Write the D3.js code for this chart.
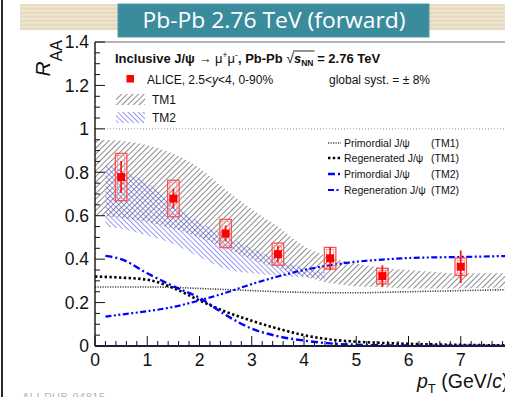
<!DOCTYPE html>
<html>
<head>
<meta charset="utf-8">
<script src="https://cdn.jsdelivr.net/npm/d3@7"></script>
<style>
  body { margin: 0; background: #fff; }
  svg { display: block; }
</style>
</head>
<body>
<svg id="chart" width="505" height="397"></svg>
<script>
// ALICE inclusive J/psi R_AA vs pT at forward rapidity, Pb-Pb 2.76 TeV,
// compared with two transport models (TM1, TM2).

// Measured points
const ptCenters = [0.5, 1.5, 2.5, 3.5, 4.5, 5.5, 7];
const raaValues = [0.778, 0.679, 0.518, 0.423, 0.404, 0.322, 0.365];
const statErrors = [0.074, 0.046, 0.037, 0.038, 0.052, 0.05, 0.075];
const systErrors = [0.109, 0.084, 0.065, 0.051, 0.05, 0.036, 0.04];

// TM1 band
const tm1Pt    = [0, 0.5, 1, 1.5, 2, 2.5, 3, 3.5, 4, 4.5, 5, 5.5, 6, 7, 8];
const tm1Upper = [0.95, 0.945, 0.925, 0.885, 0.82, 0.72, 0.63, 0.55, 0.46, 0.41, 0.38, 0.36, 0.35, 0.335, 0.335];
const tm1Lower = [0.60, 0.59, 0.57, 0.54, 0.50, 0.45, 0.40, 0.36, 0.32, 0.29, 0.275, 0.27, 0.265, 0.265, 0.27];

// TM2 band
const tm2Pt    = [0.2, 0.5, 1, 1.5, 2, 2.5, 3, 3.5, 4, 4.4];
const tm2Upper = [0.84, 0.81, 0.75, 0.65, 0.57, 0.51, 0.45, 0.40, 0.36, 0.34];
const tm2Lower = [0.55, 0.54, 0.51, 0.47, 0.41, 0.355, 0.335, 0.325, 0.315, 0.31];

// Model components
const primTM1Pt  = [0, 0.5, 1, 1.5, 2, 2.5, 3, 3.5, 4, 4.5, 5, 5.5, 6, 7, 8];
const primTM1    = [0.272, 0.272, 0.272, 0.27, 0.265, 0.26, 0.255, 0.25, 0.247, 0.245, 0.245, 0.247, 0.25, 0.255, 0.26];
const regenTM1Pt = [0, 0.5, 1, 1.5, 2, 2.5, 3, 3.5, 4, 4.5, 5, 5.5, 6, 7, 8];
const regenTM1   = [0.32, 0.315, 0.305, 0.267, 0.21, 0.158, 0.116, 0.08, 0.05, 0.03, 0.02, 0.014, 0.01, 0.005, 0.003];
const primTM2Pt  = [0.2, 0.5, 1, 1.5, 2, 2.5, 3, 3.5, 4, 4.5, 5, 6, 7, 8];
const primTM2    = [0.415, 0.40, 0.335, 0.275, 0.222, 0.143, 0.08, 0.045, 0.025, 0.012, 0.006, 0.002, 0.001, 0.001];
const regenTM2Pt = [0.2, 0.5, 1, 1.5, 2, 2.5, 3, 3.5, 4, 4.5, 5, 5.5, 6, 7, 8];
const regenTM2   = [0.135, 0.145, 0.16, 0.18, 0.21, 0.245, 0.285, 0.32, 0.35, 0.372, 0.388, 0.398, 0.405, 0.41, 0.415];

// Axis ticks (the label for 8 falls past the right edge of the slide)
const xMajorTicks = [0, 1, 2, 3, 4, 5, 6, 7];
const yMajorTicks = [0, 0.2, 0.4, 0.6, 0.8, 1, 1.2, 1.4];
const yTickLabels = ["0", "0.2", "0.4", "0.6", "0.8", "1", "1.2", "1.4"];

const svg = d3.select("#chart");
const FONT = "'Liberation Sans', Arial, Helvetica, sans-serif";

// ---------- slide decoration ----------
const defs = svg.append("defs");
const tan = defs.append("pattern").attr("id", "tanStripes")
  .attr("patternUnits", "userSpaceOnUse").attr("width", 6).attr("height", 4);
tan.append("rect").attr("width", 6).attr("height", 4).attr("fill", "#e7dbbf");
tan.append("rect").attr("y", 2).attr("width", 6).attr("height", 1.4).attr("fill", "#efe6d3");

svg.append("rect").attr("x", 20).attr("y", 4).attr("width", 485).attr("height", 26)
  .attr("fill", "url(#tanStripes)");
svg.append("rect").attr("x", 1).attr("y", 0).attr("width", 2).attr("height", 397).attr("fill", "#2a2a2a");

svg.append("rect").attr("x", 118).attr("y", 4).attr("width", 311).attr("height", 33)
  .attr("fill", "#3a8c9c").attr("stroke", "#4f9aa9").attr("stroke-width", 1);
svg.append("text").attr("x", 274).attr("y", 28).attr("text-anchor", "middle")
  .attr("font-family", "'Open Sans', 'Noto Sans', sans-serif").attr("font-size", 21)
  .attr("fill", "#ffffff").attr("textLength", 263).attr("lengthAdjust", "spacingAndGlyphs")
  .text("Pb-Pb 2.76 TeV (forward)");

svg.append("text").attr("x", 22).attr("y", 401).attr("font-family", FONT)
  .attr("font-size", 11).attr("fill", "#b5b5b5").attr("textLength", 83)
  .text("ALI-PUB-94815");

// ---------- scales ----------
const x = d3.scaleLinear().domain([0, 8]).range([95, 513]);
const y = d3.scaleLinear().domain([0, 1.4]).range([346, 42]);

defs.append("clipPath").attr("id", "plotClip").append("rect")
  .attr("x", x(0)).attr("y", y(1.4)).attr("width", x(8) - x(0)).attr("height", y(0) - y(1.4));

// hatch patterns
function hatch(id, color, angle, spacing, width) {
  const p = defs.append("pattern").attr("id", id).attr("patternUnits", "userSpaceOnUse")
    .attr("width", spacing).attr("height", spacing)
    .attr("patternTransform", `rotate(${angle})`);
  p.append("line").attr("x1", 0).attr("y1", 0).attr("x2", 0).attr("y2", spacing)
    .attr("stroke", color).attr("stroke-width", width);
}
hatch("hatchTM1", "#2e2e2e", 45, 4.0, 1.1);
hatch("hatchTM2", "#4848f0", -45, 3.6, 1.1);

const plot = svg.append("g").attr("clip-path", "url(#plotClip)");

const band = (pts, lo, hi) => d3.area()
  .x((d, i) => x(pts[i])).y0((d, i) => y(lo[i])).y1((d, i) => y(hi[i]))
  .curve(d3.curveMonotoneX)(pts);

plot.append("path").attr("d", band(tm1Pt, tm1Lower, tm1Upper)).attr("fill", "url(#hatchTM1)");
plot.append("path").attr("d", band(tm2Pt, tm2Lower, tm2Upper)).attr("fill", "url(#hatchTM2)");

const curve = (pts, vals) => d3.line()
  .x((d, i) => x(pts[i])).y((d, i) => y(vals[i])).curve(d3.curveMonotoneX)(pts);

const styles = {
  primTM1:  { stroke: "#444", width: 1.6, dash: "1.2,1.3" },
  regenTM1: { stroke: "#000", width: 2.6, dash: "2.4,2.4" },
  primTM2:  { stroke: "#0000ff", width: 2.4, dash: "7,3,2,3" },
  regenTM2: { stroke: "#0000ff", width: 2.2, dash: "6,2.5,2,2.5,2,2.5" }
};
function styled(sel, s) {
  return sel.attr("fill", "none").attr("stroke", s.stroke)
    .attr("stroke-width", s.width).attr("stroke-dasharray", s.dash);
}
styled(plot.append("path").attr("d", curve(primTM1Pt, primTM1)), styles.primTM1);
styled(plot.append("path").attr("d", curve(regenTM1Pt, regenTM1)), styles.regenTM1);
styled(plot.append("path").attr("d", curve(primTM2Pt, primTM2)), styles.primTM2);
styled(plot.append("path").attr("d", curve(regenTM2Pt, regenTM2)), styles.regenTM2);

// unity reference line
plot.append("line").attr("x1", x(0)).attr("x2", x(8)).attr("y1", y(1)).attr("y2", y(1))
  .attr("stroke", "#999").attr("stroke-width", 1).attr("stroke-dasharray", "1,2");

// ---------- data points ----------
const boxHalf = 0.11;
const pts = plot.append("g");
ptCenters.forEach((pt, i) => {
  const v = raaValues[i];
  pts.append("rect")
    .attr("x", x(pt - boxHalf)).attr("width", x(pt + boxHalf) - x(pt - boxHalf))
    .attr("y", y(v + systErrors[i])).attr("height", y(v - systErrors[i]) - y(v + systErrors[i]))
    .attr("fill", "none").attr("stroke", "#ff5050").attr("stroke-width", 1.3);
  pts.append("rect")
    .attr("x", x(pt - boxHalf) + 2.2).attr("width", x(pt + boxHalf) - x(pt - boxHalf) - 4.4)
    .attr("y", y(v + systErrors[i]) + 2.2).attr("height", y(v - systErrors[i]) - y(v + systErrors[i]) - 4.4)
    .attr("fill", "none").attr("stroke", "#ff8a8a").attr("stroke-width", 0.8);
  pts.append("line").attr("x1", x(pt)).attr("x2", x(pt))
    .attr("y1", y(v + statErrors[i])).attr("y2", y(v - statErrors[i]))
    .attr("stroke", "#ff1a1a").attr("stroke-width", 1.8);
  pts.append("rect").attr("x", x(pt) - 4).attr("y", y(v) - 4).attr("width", 8).attr("height", 8)
    .attr("fill", "#ff0000");
});

// ---------- frame and axes ----------
svg.append("line").attr("x1", x(0)).attr("x2", 505).attr("y1", y(1.4)).attr("y2", y(1.4))
  .attr("stroke", "#9a9a9a").attr("stroke-width", 1.5);

const axes = svg.append("g").attr("stroke", "#111");
const xMinor = d3.range(0, 8.001, 0.2);
xMinor.forEach(t => {
  const major = Math.abs(t - Math.round(t)) < 1e-6;
  axes.append("line").attr("x1", x(t)).attr("x2", x(t))
    .attr("y1", y(0)).attr("y2", y(0) - (major ? 10 : 5)).attr("stroke-width", 1);
});
const yMinor = d3.range(0, 1.4001, 0.05);
yMinor.forEach(t => {
  const major = Math.abs(t * 5 - Math.round(t * 5)) < 1e-6;
  axes.append("line").attr("x1", x(0)).attr("x2", x(0) + (major ? 10 : 5))
    .attr("y1", y(t)).attr("y2", y(t)).attr("stroke-width", 1);
});
axes.append("line").attr("x1", x(0)).attr("x2", x(0)).attr("y1", y(0)).attr("y2", y(1.4))
  .attr("stroke-width", 1.4);
axes.append("line").attr("x1", x(0)).attr("x2", 505).attr("y1", y(0)).attr("y2", y(0))
  .attr("stroke", "#1b1b3a").attr("stroke-width", 1.8);

const lbl = svg.append("g").attr("font-family", FONT).attr("font-size", 17.5).attr("fill", "#111");
xMajorTicks.forEach(t => {
  lbl.append("text").attr("x", x(t)).attr("y", 366).attr("text-anchor", "middle").text(String(t));
});
yMajorTicks.forEach((t, i) => {
  lbl.append("text").attr("x", 89).attr("y", y(t) + 6.3).attr("text-anchor", "end").text(yTickLabels[i]);
});

// axis titles
const yTitle = svg.append("text").attr("transform", "translate(50,40) rotate(-90)")
  .attr("text-anchor", "end").attr("font-family", FONT).attr("fill", "#111");
yTitle.append("tspan").attr("font-style", "italic").attr("font-size", 21).text("R");
yTitle.append("tspan").attr("font-size", 16).attr("dy", 12).text("AA");

const xTitle = svg.append("text").attr("x", 417).attr("y", 388)
  .attr("font-family", FONT).attr("font-size", 19.5).attr("fill", "#111");
xTitle.append("tspan").attr("font-style", "italic").text("p");
xTitle.append("tspan").attr("font-size", 13).attr("dy", 5).text("T");
xTitle.append("tspan").attr("dy", -5).text(" (GeV/");
xTitle.append("tspan").attr("font-style", "italic").text("c");
xTitle.append("tspan").text(")");

// ---------- legends ----------
const leg = svg.append("g").attr("font-family", FONT).attr("fill", "#111");
const hdr = leg.append("text").attr("x", 115).attr("y", 63).attr("font-size", 13).attr("font-weight", "bold");
hdr.append("tspan").text("Inclusive J/ψ ");
hdr.append("tspan").attr("font-weight", "normal").text(" →  μ");
hdr.append("tspan").attr("font-weight", "normal").attr("font-size", 8.5).attr("dy", -5).text("+");
hdr.append("tspan").attr("font-weight", "normal").attr("dy", 5).text("μ");
hdr.append("tspan").attr("font-weight", "normal").attr("font-size", 8.5).attr("dy", -5).text("-");
hdr.append("tspan").attr("dy", 5).text(", Pb-Pb  ");
const sqrtSpan = hdr.append("tspan").attr("font-weight", "normal").attr("font-size", 14).text("√");
hdr.append("tspan").attr("font-style", "italic").text("s");
const nnSpan = hdr.append("tspan").attr("font-size", 8.5).attr("dy", 3).text("NN");
hdr.append("tspan").attr("dy", -3).text(" = 2.76 TeV");
// overline of the square root
const sqrtEnd = sqrtSpan.node().getStartPositionOfChar(0).x + sqrtSpan.node().getComputedTextLength();
const nnEnd = nnSpan.node().getStartPositionOfChar(0).x + nnSpan.node().getComputedTextLength();
leg.append("line").attr("x1", sqrtEnd - 1).attr("x2", nnEnd + 1).attr("y1", 51).attr("y2", 51)
  .attr("stroke", "#111").attr("stroke-width", 0.9);

leg.append("rect").attr("x", 126.5).attr("y", 75).attr("width", 7.5).attr("height", 7.5).attr("fill", "#ff0000");
const alice = leg.append("text").attr("x", 147).attr("y", 84).attr("font-size", 12);
alice.append("tspan").text("ALICE, 2.5<");
alice.append("tspan").attr("font-style", "italic").text("y");
alice.append("tspan").text("<4, 0-90%");
leg.append("text").attr("x", 329).attr("y", 84).attr("font-size", 12).text("global syst. = ± 8%");

leg.append("rect").attr("x", 116).attr("y", 94).attr("width", 29).attr("height", 11).attr("fill", "url(#hatchTM1)");
leg.append("text").attr("x", 152).attr("y", 104).attr("font-size", 12).text("TM1");
leg.append("rect").attr("x", 116).attr("y", 112).attr("width", 29).attr("height", 11).attr("fill", "url(#hatchTM2)");
leg.append("text").attr("x", 152).attr("y", 122).attr("font-size", 12).text("TM2");

const rightLegend = [
  { key: "primTM1",  name: "Primordial J/ψ",   model: "(TM1)", y: 143 },
  { key: "regenTM1", name: "Regenerated J/ψ",  model: "(TM1)", y: 158 },
  { key: "primTM2",  name: "Primordial J/ψ",   model: "(TM2)", y: 174 },
  { key: "regenTM2", name: "Regeneration J/ψ", model: "(TM2)", y: 190 }
];
rightLegend.forEach(r => {
  styled(leg.append("line").attr("x1", 328).attr("x2", 341).attr("y1", r.y).attr("y2", r.y), styles[r.key]);
  leg.append("text").attr("x", 344).attr("y", r.y + 4).attr("font-size", 10.5).text(r.name);
  leg.append("text").attr("x", 431).attr("y", r.y + 4).attr("font-size", 10.5).text(r.model);
});
</script>
</body>
</html>
